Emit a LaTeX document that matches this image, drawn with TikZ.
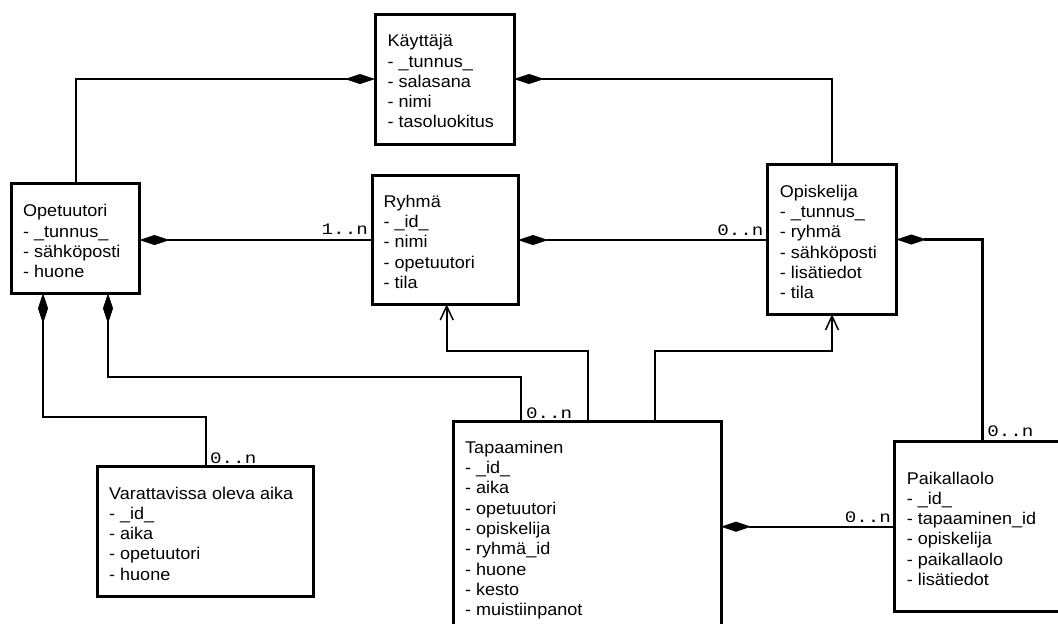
\documentclass[tikz,border=0pt]{standalone}
\usepackage{fontspec}
\setmainfont{Liberation Sans}[FakeStretch=1.06]
\newfontfamily\monof{Liberation Mono}[FakeStretch=1.2]
\usetikzlibrary{arrows.meta}
\begin{document}
\begin{tikzpicture}[x=1pt,y=-1pt,
  box/.style={draw, line width=3pt, outer sep=0pt, inner sep=0pt, anchor=north west},
  txt/.style={anchor=base west, inner sep=0pt, font=\fontsize{17}{20.3}\selectfont},
  mult/.style={inner sep=0pt, font=\monof\fontsize{16}{18}\selectfont},
  conn/.style={line width=2.2pt},
  cdia/.tip={Diamond[length=30pt,width=10pt,line width=0.5pt]},
  obarb/.tip={Straight Barb[length=14pt,width=13pt,line width=1.5pt]}
]
\fill[white] (0,0) rectangle (1058,624);
\useasboundingbox (0,0) rectangle (1058,624);
\clip (0,0) rectangle (1058,624);

% boxes
\node[box, minimum width=139, minimum height=130] (kay) at (375,14) {};
\node[box, minimum width=128.5, minimum height=109.6] (ope) at (11,183.7) {};
\node[box, minimum width=146, minimum height=128.6] (ryh) at (372,175.7) {};
\node[box, minimum width=128.8, minimum height=149.6] (opi) at (767.6,164.7) {};
\node[box, minimum width=215.9, minimum height=130] (var) at (97.5,466.7) {};
\node[box, minimum width=268, minimum height=230] (tap) at (453,421) {};
\node[box, minimum width=185, minimum height=170] (pai) at (894.7,441.7) {};

% texts
\node[txt] (kayT) at ([xshift=12.5,yshift=-32.7]kay.north west)
  {\begin{tabular}[t]{@{}l@{}}Käyttäjä\\- \_tunnus\_\\- salasana\\- nimi\\- tasoluokitus\end{tabular}};
\node[txt] (opeT) at ([xshift=12,yshift=-33]ope.north west)
  {\begin{tabular}[t]{@{}l@{}}Opetuutori\\- \_tunnus\_\\- sähköposti\\- huone\end{tabular}};
\node[txt] (ryhT) at ([xshift=11.5,yshift=-31.6]ryh.north west)
  {\begin{tabular}[t]{@{}l@{}}Ryhmä\\- \_id\_\\- nimi\\- opetuutori\\- tila\end{tabular}};
\node[txt] (opiT) at ([xshift=12,yshift=-32.6]opi.north west)
  {\begin{tabular}[t]{@{}l@{}}Opiskelija\\- \_tunnus\_\\- ryhmä\\- sähköposti\\- lisätiedot\\- tila\end{tabular}};
\node[txt] (varT) at ([xshift=11.5,yshift=-32.3]var.north west)
  {\begin{tabular}[t]{@{}l@{}}Varattavissa oleva aika\\- \_id\_\\- aika\\- opetuutori\\- huone\end{tabular}};
\node[txt] (tapT) at ([xshift=12,yshift=-32.3]tap.north west)
  {\begin{tabular}[t]{@{}l@{}}Tapaaminen\\- \_id\_\\- aika\\- opetuutori\\- opiskelija\\- ryhmä\_id\\- huone\\- kesto\\- muistiinpanot\end{tabular}};
\node[txt] (paiT) at ([xshift=12,yshift=-42.3]pai.north west)
  {\begin{tabular}[t]{@{}l@{}}Paikallaolo\\- \_id\_\\- tapaaminen\_id\\- opiskelija\\- paikallaolo\\- lisätiedot\end{tabular}};

% connectors
\draw[conn,-{cdia}] ([xshift=64.8]ope.north west) |- (kay.west);
\draw[conn,{cdia}-] (kay.east) -| (opi.north);
\draw[conn,{cdia}-] (ope.east |- ryh.west) -- (ryh.west);
\draw[conn,{cdia}-] (ryh.east) -- (ryh.east -| opi.west);
\draw[conn,{cdia}-] (opi.east) -| ([xshift=87.8]pai.north west);
\draw[conn,{cdia}-] ([xshift=32]ope.south west) -- ++(0,124) -| ([xshift=108.1]var.north west);
\draw[conn,{cdia}-] ([xshift=97]ope.south west) -- ++(0,84) -| ([xshift=67.7]tap.north west);
\draw[conn,-{obarb}] ([xshift=135]tap.north west) -- ++(0,-69.7) -| ([xshift=74.7]ryh.south west);
\draw[conn,-{obarb}] ([xshift=202]tap.north west) -- ++(0,-69.7) -| (opi.south);
\draw[conn,{cdia}-] (pai.west -| tap.east) -- (pai.west);

% multiplicities
\node[mult, anchor=base east] (m1) at ([xshift=-4,yshift=5.7]ryh.west) {1..n};
\node[mult, anchor=base east] (m2) at ([xshift=-4,yshift=4.5]opi.west) {0..n};
\node[mult, anchor=base west] (m3) at ([xshift=112.5,yshift=3.4]var.north west) {0..n};
\node[mult, anchor=base west] (m4) at ([xshift=72.8,yshift=2.7]tap.north west) {0..n};
\node[mult, anchor=base west] (m5) at ([xshift=92.5,yshift=5]pai.north west) {0..n};
\node[mult, anchor=base east] (m6) at ([xshift=-3.5,yshift=4.4]pai.west) {0..n};
\end{tikzpicture}
\end{document}
